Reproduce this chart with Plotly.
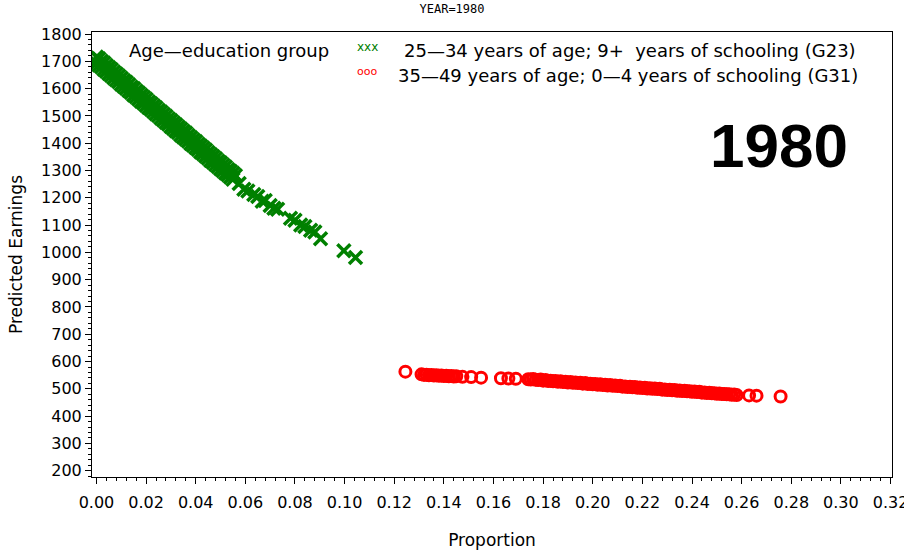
import plotly.graph_objects as go

# Age-education group G23: 25-34 years of age, 9+ years of schooling
# (dense run of observations, upper and lower edge of the band, then the sparse tail)
g23_prop = [
    0.000, 0.001, 0.002, 0.003, 0.004, 0.005, 0.006, 0.007, 0.008, 0.009,
    0.010, 0.011, 0.012, 0.013, 0.014, 0.015, 0.016, 0.017, 0.018, 0.019,
    0.020, 0.021, 0.022, 0.023, 0.024, 0.025, 0.026, 0.027, 0.028, 0.029,
    0.030, 0.031, 0.032, 0.033, 0.034, 0.035, 0.036, 0.037, 0.038, 0.039,
    0.040, 0.041, 0.042, 0.043, 0.044, 0.045, 0.046, 0.047, 0.048, 0.049,
    0.050, 0.051, 0.052, 0.053, 0.054, 0.055, 0.056,
    0.000, 0.001, 0.002, 0.003, 0.004, 0.005, 0.006, 0.007, 0.008, 0.009,
    0.010, 0.011, 0.012, 0.013, 0.014, 0.015, 0.016, 0.017, 0.018, 0.019,
    0.020, 0.021, 0.022, 0.023, 0.024, 0.025, 0.026, 0.027, 0.028, 0.029,
    0.030, 0.031, 0.032, 0.033, 0.034, 0.035, 0.036, 0.037, 0.038, 0.039,
    0.040, 0.041, 0.042, 0.043, 0.044, 0.045, 0.046, 0.047, 0.048, 0.049,
    0.050, 0.051, 0.052, 0.053, 0.054, 0.055,
    0.0575, 0.0594, 0.061, 0.0634, 0.065, 0.0668, 0.068, 0.070, 0.0715, 0.073,
    0.0782, 0.080, 0.0823, 0.084, 0.0863, 0.088, 0.0903, 0.0997, 0.1044,
]
g23_earn = [
    1716, 1709, 1700, 1694, 1685, 1677, 1670, 1661, 1654, 1646,
    1638, 1630, 1623, 1615, 1606, 1600, 1591, 1584, 1576, 1568,
    1561, 1552, 1545, 1537, 1530, 1521, 1514, 1506, 1499, 1490,
    1483, 1475, 1468, 1459, 1452, 1444, 1437, 1428, 1421, 1413,
    1406, 1397, 1390, 1382, 1375, 1366, 1359, 1351, 1344, 1335,
    1328, 1320, 1313, 1304, 1297, 1290, 1282,
    1694, 1686, 1680, 1671, 1664, 1655, 1648, 1640, 1632, 1625,
    1616, 1609, 1601, 1593, 1586, 1577, 1570, 1562, 1554, 1547,
    1539, 1531, 1524, 1516, 1508, 1501, 1492, 1485, 1477, 1470,
    1461, 1454, 1446, 1439, 1430, 1423, 1415, 1408, 1399, 1392,
    1384, 1377, 1368, 1361, 1353, 1346, 1337, 1330, 1322, 1315,
    1306, 1299, 1291, 1284, 1276, 1268,
    1252, 1231, 1225, 1212, 1205, 1187, 1190, 1172, 1162, 1158,
    1125, 1118, 1100, 1095, 1081, 1075, 1050, 1006, 981,
]

# Age-education group G31: 35-49 years of age, 0-4 years of schooling
g31_prop = [
    0.1245,
    0.131, 0.132, 0.133, 0.134, 0.135, 0.136, 0.137, 0.138, 0.139, 0.140,
    0.141, 0.142, 0.143, 0.144, 0.145, 0.1475, 0.151, 0.155, 0.163, 0.166,
    0.169, 0.174,
    0.175, 0.176, 0.177, 0.178, 0.179, 0.180, 0.181, 0.182, 0.183, 0.184,
    0.185, 0.186, 0.187, 0.188, 0.189, 0.190, 0.191, 0.192, 0.193, 0.194,
    0.195, 0.196, 0.197, 0.198, 0.199, 0.200, 0.201, 0.202, 0.203, 0.204,
    0.205, 0.206, 0.207, 0.208, 0.209, 0.210, 0.211, 0.212, 0.213, 0.214,
    0.215, 0.216, 0.217, 0.218, 0.219, 0.220, 0.221, 0.222, 0.223, 0.224,
    0.225, 0.226, 0.227, 0.228, 0.229, 0.230, 0.231, 0.232, 0.233, 0.234,
    0.235, 0.236, 0.237, 0.238, 0.239, 0.240, 0.241, 0.242, 0.243, 0.244,
    0.245, 0.246, 0.247, 0.248, 0.249, 0.250, 0.251, 0.252, 0.253, 0.254,
    0.255, 0.256, 0.257, 0.258, 0.263, 0.266, 0.2757,
]
g31_earn = [
    563,
    553, 551, 552, 550, 551, 549, 550, 548, 549, 547,
    548, 546, 547, 545, 546, 544, 543, 541, 539, 538,
    537, 535,
    534, 536, 533, 532, 534, 530, 532, 529, 530, 528,
    529, 526, 528, 525, 526, 523, 525, 522, 523, 521,
    522, 519, 521, 518, 519, 517, 518, 515, 517, 514,
    515, 512, 514, 511, 512, 510, 511, 508, 509, 507,
    508, 506, 507, 504, 505, 503, 504, 501, 502, 500,
    501, 499, 500, 497, 498, 496, 497, 495, 496, 493,
    494, 492, 493, 491, 491, 489, 490, 488, 489, 486,
    487, 485, 486, 484, 484, 482, 483, 481, 481, 480,
    480, 478, 479, 477, 476, 475, 472,
]

year_label = "1980"
group_title = "Age\u2014education group"
g23_label = "25\u201434 years of age; 9+\u00a0 years of schooling (G23)"
g31_label = "35\u201449 years of age; 0\u20144 years of schooling (G31)"

GREEN = "#008000"
RED = "#FF0000"
FONT = "DejaVu Sans"

fig = go.Figure()
fig.add_trace(go.Scatter(
    x=g23_prop, y=g23_earn, mode="markers", name=g23_label, showlegend=False,
    marker=dict(symbol="x-thin", size=13, color=GREEN,
                line=dict(width=3.5, color=GREEN)),
))
fig.add_trace(go.Scatter(
    x=g31_prop, y=g31_earn, mode="markers", name=g31_label, showlegend=False,
    marker=dict(symbol="circle-open", size=11, color=RED,
                line=dict(width=3, color=RED)),
))

axis_common = dict(
    showline=True, linecolor="black", linewidth=1, mirror=True,
    showgrid=False, zeroline=False, ticks="outside", tickcolor="black",
    tickfont=dict(family=FONT, size=16, color="black"),
    ticklabeloverflow="allow", automargin=False,
)

fig.update_xaxes(
    range=[-0.0018, 0.3206], tick0=0, dtick=0.02, tickformat=".2f", ticklen=6,
    ticklabelstandoff=5,
    minor=dict(ticks="outside", dtick=0.004, ticklen=3, tickcolor="black"),
    title=dict(text="Proportion", font=dict(family=FONT, size=17, color="black"),
               standoff=27),
    **axis_common,
)
fig.update_yaxes(
    range=[177, 1807.4], tick0=200, dtick=100, ticklen=6,
    minor=dict(ticks="outside", dtick=20, ticklen=3, tickcolor="black"),
    title=dict(text="Predicted Earnings", font=dict(family=FONT, size=17, color="black"),
               standoff=14),
    **axis_common,
)

annotations = [
    dict(text=group_title, x=0.044, y=0.958, xanchor="left", yanchor="middle",
         font=dict(family=FONT, size=18, color="black")),
    dict(text="xxx", x=0.329, y=0.966, xanchor="left", yanchor="middle",
         font=dict(family=FONT, size=12, color=GREEN)),
    dict(text=g23_label, x=0.388, y=0.958, xanchor="left", yanchor="middle",
         font=dict(family=FONT, size=18, color="black")),
    dict(text="ooo", x=0.329, y=0.912, xanchor="left", yanchor="middle",
         font=dict(family=FONT, size=11, color=RED)),
    dict(text=g31_label, x=0.380, y=0.902, xanchor="left", yanchor="middle",
         font=dict(family=FONT, size=18, color="black")),
    dict(text=year_label, x=0.859, y=0.745, xanchor="center", yanchor="middle",
         font=dict(family="Liberation Sans", size=62, color="black", weight="bold")),
]
for a in annotations:
    a.update(xref="paper", yref="paper", showarrow=False)

fig.update_layout(
    width=904, height=550,
    margin=dict(l=92, r=12, t=32, b=73),
    paper_bgcolor="white", plot_bgcolor="white",
    title=dict(text="YEAR=1980", x=0.5, xref="container", y=0.984, yref="container",
               xanchor="center", yanchor="middle",
               font=dict(family="DejaVu Sans Mono", size=12, color="black")),
    annotations=annotations,
)

fig.write_html("out.html")
